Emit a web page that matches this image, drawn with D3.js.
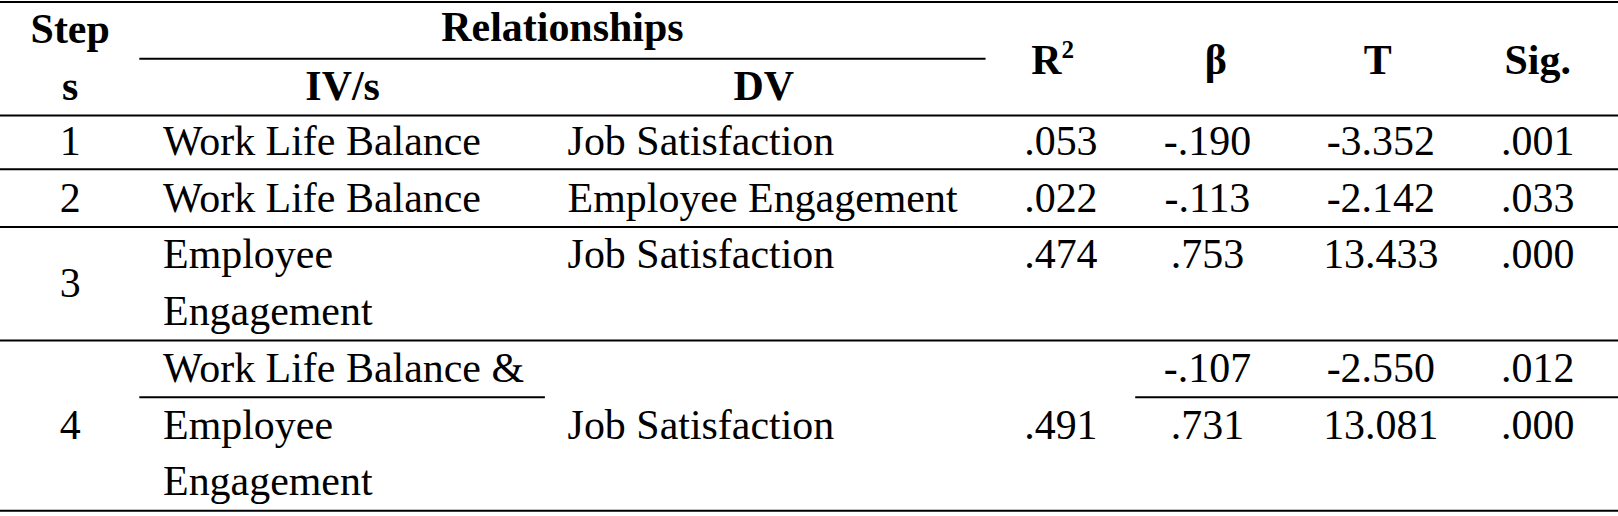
<!DOCTYPE html><html><head><meta charset="utf-8"><script src="https://cdn.jsdelivr.net/npm/d3@7"></script>
<style>body{margin:0;background:#fff}</style></head><body><svg id="c" width="1618" height="516"></svg>
<script>
const steps=["1","2","3","4"];
const ivs=[["Work Life Balance"],["Work Life Balance"],["Employee","Engagement"],["Work Life Balance &","Employee","Engagement"]];
const dvs=["Job Satisfaction","Employee Engagement","Job Satisfaction","Job Satisfaction"];
const r2=[".053",".022",".474",".491"];
const betas=[["-.190"],["-.113"],[".753"],["-.107",".731"]];
const tvals=[["-3.352"],["-2.142"],["13.433"],["-2.550","13.081"]];
const sigs=[[".001"],[".033"],[".000"],[".012",".000"]];
const s=1.032;
const FF="'Liberation Serif','DejaVu Serif','Times New Roman',serif";
const svg=d3.select("#c");
const y=v=>v*s, x=v=>v*s;
// size font so the reference label width is matched
const probe=svg.append("text").attr("font-family",FF).attr("font-size",40).text("Work Life Balance");
let fs=40*318/probe.node().getComputedTextLength();probe.remove();
if(!isFinite(fs)||fs<20||fs>60)fs=40;
function t(str,xx,yy,anchor="start",bold=false){const e=svg.append("text").attr("x",x(xx)).attr("y",y(yy)).attr("font-family",FF).attr("font-size",fs).attr("fill","#000").attr("text-anchor",anchor).attr("font-weight",bold?"bold":"normal");e.text(str);return e;}
function ln(x1,x2,yy,w=2){svg.append("line").attr("x1",x(x1)).attr("x2",x(x2)).attr("y1",y(yy)).attr("y2",y(yy)).attr("stroke","#000").attr("stroke-width",w);}
ln(0,1568,2);ln(135,955,57);ln(0,1568,112);ln(0,1568,164);ln(0,1568,220);ln(0,1568,330);ln(135,528,385);ln(1100,1568,385);ln(0,1568,495);
t("Step",68,42,"middle",true);t("s",68,97,"middle",true);
t("Relationships",545,40,"middle",true);t("IV/s",332,97,"middle",true);t("DV",740,97,"middle",true);
const r=t("R",1020,72,"middle",true);r.append("tspan").attr("font-size",fs*0.6).attr("dy",-fs*0.38).text("2");
t("β",1178,72,"middle",true);t("T",1335,72,"middle",true);t("Sig.",1490,72,"middle",true);
const ivBase=[[150],[205],[260,315],[370,425,480]];
const stepBase=[150,205,288,425];
const dvBase=[150,205,260,425];
const statBase=[[150],[205],[260],[370,425]];
const cx={r2:1028,b:1170,t:1338,s:1490};
steps.forEach((st,i)=>{
 t(st,68,stepBase[i],"middle");
 ivs[i].forEach((v,j)=>t(v,158,ivBase[i][j]));
 t(dvs[i],550,dvBase[i]);
 t(r2[i],cx.r2,dvBase[i],"middle");
 betas[i].forEach((v,j)=>t(v,cx.b,statBase[i][j],"middle"));
 tvals[i].forEach((v,j)=>t(v,cx.t,statBase[i][j],"middle"));
 sigs[i].forEach((v,j)=>t(v,cx.s,statBase[i][j],"middle"));
});
</script></body></html>
